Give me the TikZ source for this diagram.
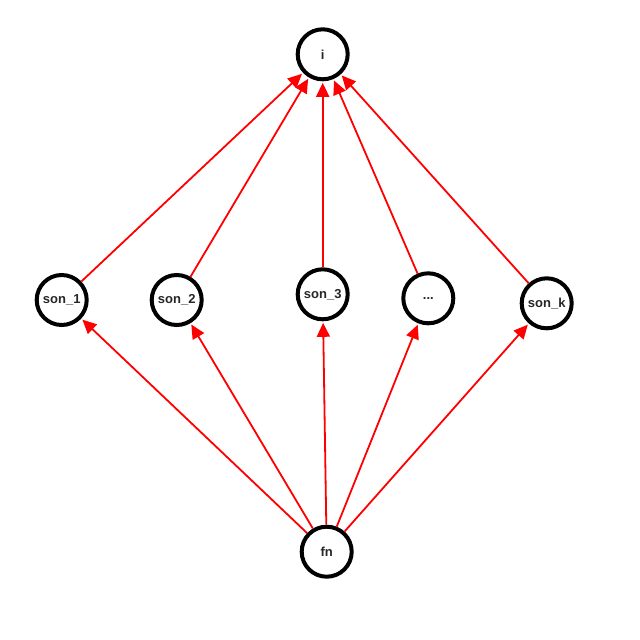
\documentclass[tikz,border=0pt]{standalone}
\usepackage{fontspec}
\setmainfont{Liberation Sans}
\usetikzlibrary{arrows.meta}
\begin{document}
\begin{tikzpicture}[x=1pt,y=-1pt,
  vtx/.style={circle,draw=black,line width=4pt,fill=white,minimum size=50pt,inner sep=0pt,
    font=\fontsize{13pt}{15pt}\selectfont\bfseries,text=black!85},
  redarrow/.style={draw=red,line width=1.8pt,-{Triangle[length=14pt,width=13pt]},shorten >=1.5pt}]
\useasboundingbox (0,0) rectangle (640,640);
\node[vtx] (i) at (322.7,54.3) {i};
\node[vtx] (s1) at (61.7,300) {son\_1};
\node[vtx] (s2) at (176.7,300) {son\_2};
\node[vtx] (s3) at (322.7,294.3) {son\_3};
\node[vtx] (sd) at (428.3,298.3) {...};
\node[vtx] (sk) at (546.7,303.3) {son\_k};
\node[vtx] (fn) at (326.7,551.7) {fn};
\foreach \s in {s1,s2,s3,sd,sk} {
  \draw[redarrow] (\s) -- (i);
  \draw[redarrow] (fn) -- (\s);
}
\end{tikzpicture}
\end{document}
